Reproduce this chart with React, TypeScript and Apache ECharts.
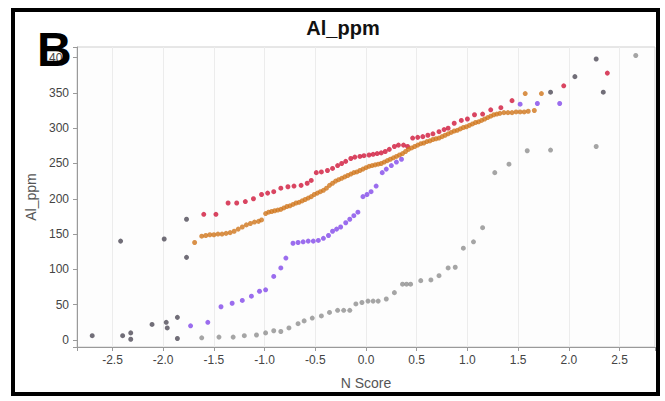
import React, { useEffect, useRef } from "react";
import * as echarts from "echarts";

// Normal-score (Q-Q) plot of Al_ppm, one point list per group: [N score, Al_ppm]
const redGroup: [number, number][] = [
  [-1.6, 178], [-1.48, 178], [-1.36, 194], [-1.275, 194], [-1.19, 196], [-1.11, 200],
  [-1.03, 206], [-0.97, 208], [-0.91, 210], [-0.84, 215], [-0.77, 217], [-0.71, 218],
  [-0.64, 219], [-0.58, 222], [-0.54, 226], [-0.49, 237], [-0.44, 238], [-0.38, 240],
  [-0.33, 243], [-0.28, 247], [-0.24, 250], [-0.2, 253], [-0.15, 257], [-0.11, 259],
  [-0.06, 260], [-0.02, 261], [0.03, 262], [0.07, 263], [0.11, 264], [0.15, 265],
  [0.19, 267], [0.23, 270], [0.28, 274], [0.32, 276], [0.37, 276], [0.41, 274],
  [0.46, 286], [0.51, 287], [0.56, 288], [0.61, 290], [0.66, 292], [0.72, 295],
  [0.77, 298], [0.81, 300], [0.87, 307], [0.94, 311], [1.0, 313], [1.07, 319],
  [1.15, 320], [1.23, 326], [1.33, 329], [1.44, 339], [1.95, 360], [2.38, 378],
];

const orangeGroup: [number, number][] = [
  [-1.69, 138], [-1.62, 147], [-1.58, 148], [-1.54, 149], [-1.5, 149], [-1.46, 150],
  [-1.42, 150], [-1.38, 151], [-1.34, 152], [-1.3, 154], [-1.26, 157], [-1.22, 160],
  [-1.18, 163], [-1.14, 165], [-1.1, 167], [-1.06, 168], [-1.03, 170], [-0.99, 179],
  [-0.96, 181], [-0.93, 182], [-0.9, 183], [-0.87, 184], [-0.84, 185], [-0.81, 187],
  [-0.78, 189], [-0.75, 190], [-0.72, 192], [-0.69, 194], [-0.66, 195], [-0.63, 197],
  [-0.6, 199], [-0.57, 201], [-0.54, 203], [-0.51, 206], [-0.48, 208], [-0.45, 210],
  [-0.42, 212], [-0.39, 215], [-0.36, 219], [-0.33, 222], [-0.3, 225], [-0.27, 227],
  [-0.24, 229], [-0.21, 231], [-0.18, 233], [-0.15, 235], [-0.12, 237], [-0.09, 238],
  [-0.06, 240], [-0.03, 242], [0.0, 244], [0.03, 246], [0.06, 247], [0.09, 248],
  [0.12, 249], [0.15, 250], [0.18, 252], [0.21, 254], [0.24, 256], [0.27, 258],
  [0.3, 260], [0.33, 262], [0.36, 264], [0.39, 267], [0.42, 270], [0.45, 272],
  [0.48, 274], [0.51, 276], [0.54, 278], [0.57, 279], [0.6, 281], [0.63, 282],
  [0.66, 284], [0.69, 285], [0.72, 286], [0.75, 288], [0.78, 290], [0.81, 292],
  [0.84, 294], [0.87, 296], [0.9, 297], [0.93, 299], [0.96, 301], [0.99, 302],
  [1.02, 304], [1.05, 306], [1.08, 308], [1.11, 309], [1.14, 311], [1.17, 313],
  [1.2, 315], [1.23, 317], [1.26, 319], [1.29, 320], [1.32, 321], [1.36, 322],
  [1.4, 322], [1.44, 322], [1.48, 323], [1.52, 323], [1.56, 323], [1.6, 324],
  [1.66, 325], [1.57, 349], [1.73, 349],
];

const violetGroup: [number, number][] = [
  [-1.73, 20], [-1.56, 25], [-1.43, 47], [-1.32, 52], [-1.22, 56], [-1.13, 62],
  [-1.05, 69], [-0.99, 71], [-0.91, 90], [-0.84, 102], [-0.79, 116], [-0.72, 137],
  [-0.67, 138], [-0.62, 139], [-0.57, 140], [-0.52, 140], [-0.47, 141], [-0.42, 144],
  [-0.37, 148], [-0.33, 154], [-0.29, 157], [-0.25, 160], [-0.2, 166], [-0.16, 171],
  [-0.12, 176], [-0.08, 181], [-0.03, 203], [0.01, 206], [0.05, 210], [0.1, 218],
  [0.16, 237], [0.2, 242], [0.25, 247], [0.3, 252], [0.35, 256],
  [1.52, 334], [1.69, 335], [1.91, 335],
];

const grayGroup: [number, number][] = [
  [-1.62, 3], [-1.45, 4], [-1.31, 4], [-1.2, 6], [-1.08, 7], [-0.99, 10],
  [-0.91, 13], [-0.84, 12], [-0.76, 17], [-0.67, 23], [-0.61, 27], [-0.53, 31],
  [-0.44, 34], [-0.36, 39], [-0.28, 42], [-0.22, 42], [-0.16, 42], [-0.1, 51],
  [-0.04, 53], [0.02, 55], [0.07, 55], [0.12, 55], [0.2, 58], [0.28, 67],
  [0.36, 79], [0.4, 79], [0.44, 79], [0.54, 84], [0.64, 85], [0.72, 91],
  [0.81, 102], [0.88, 103], [0.96, 130], [1.06, 139], [1.15, 159], [1.27, 237],
  [1.41, 249], [1.59, 268], [1.82, 269], [2.27, 274], [2.66, 403],
];

const darkGroup: [number, number][] = [
  [-2.7, 6], [-2.4, 6], [-2.32, 10], [-2.32, 1], [-2.11, 22], [-1.97, 25],
  [-1.96, 17], [-1.86, 32], [-1.86, 2], [-2.42, 140], [-1.99, 143], [-1.77, 171],
  [-1.77, 117], [1.82, 351], [2.06, 373], [2.27, 398], [2.34, 351],
];

const groups = [
  { name: "G1", data: redGroup, color: "#d0163a" },
  { name: "G2", data: orangeGroup, color: "#cf761c" },
  { name: "G3", data: violetGroup, color: "#8248ea" },
  { name: "G4", data: grayGroup, color: "#8e8e8e" },
  { name: "G5", data: darkGroup, color: "#4e4a56" },
];

const FONT = "Liberation Sans, Arial, sans-serif";

export default function App() {
  const ref = useRef<HTMLDivElement>(null);

  useEffect(() => {
    if (!ref.current) return;
    const chart = echarts.init(ref.current, undefined, { renderer: "svg" });
    chart.setOption({
      animation: false,
      backgroundColor: "#ffffff",
      title: {
        text: "Al_ppm",
        left: 338,
        top: 13,
        textAlign: "center",
        textStyle: { fontFamily: FONT, fontWeight: "bold", fontSize: 20, color: "#111" },
      },
      grid: { left: 77, right: 10, top: 47, bottom: 54, show: true, borderColor: "#cfcfcf", borderWidth: 1, backgroundColor: "#fdfdfd" },
      xAxis: {
        type: "value",
        min: -2.85,
        max: 2.85,
        minInterval: 0.5,
        maxInterval: 0.5,
        name: "N Score",
        nameLocation: "middle",
        nameGap: 29,
        nameTextStyle: { fontFamily: FONT, fontSize: 14, color: "#555" },
        axisLine: { show: true, onZero: false, lineStyle: { color: "#9a9a9a" } },
        axisTick: { show: true, length: 4, lineStyle: { color: "#9a9a9a" } },
        axisLabel: {
          fontFamily: FONT,
          fontSize: 12,
          color: "#444",
          margin: 7,
          formatter: (v: number) => (Math.abs(v * 2 - Math.round(v * 2)) < 1e-6 ? v.toFixed(1) : ""),
        },
        splitLine: { show: true, lineStyle: { color: "#ececec", width: 1 } },
      },
      yAxis: {
        type: "value",
        min: -10,
        max: 415,
        minInterval: 50,
        maxInterval: 50,
        name: "Al_ppm",
        nameLocation: "middle",
        nameGap: 34,
        nameTextStyle: { fontFamily: FONT, fontSize: 14, color: "#555" },
        axisLine: { show: true, onZero: false, lineStyle: { color: "#9a9a9a" } },
        axisTick: { show: true, length: 4, lineStyle: { color: "#9a9a9a" } },
        axisLabel: {
          fontFamily: FONT,
          fontSize: 12,
          color: "#444",
          margin: 8,
          formatter: (v: number) => (Math.abs(v % 50) < 1e-6 && v >= 0 && v <= 400 ? String(v) : ""),
        },
        splitLine: { show: false },
      },
      series: groups.map((g) => ({
        type: "scatter",
        name: g.name,
        data: g.data,
        symbol: "circle",
        symbolSize: 5,
        itemStyle: { color: g.color },
      })),
      graphic: [
        {
          type: "rect",
          shape: { x: 13, y: 10, width: 645, height: 384 },
          style: { fill: "none", stroke: "#000", lineWidth: 4 },
          z: 100,
        },
        {
          type: "text",
          left: 37,
          top: 25,
          style: { text: "B", fontFamily: FONT, fontWeight: "bold", fontSize: 48, fill: "#000" },
          z: 100,
        },
      ],
    });
    return () => chart.dispose();
  }, []);

  return (
    <div style={{ position: "fixed", left: 0, top: 0, width: 665, height: 401, background: "#fff" }}>
      <div ref={ref} style={{ width: 665, height: 401 }} />
    </div>
  );
}
